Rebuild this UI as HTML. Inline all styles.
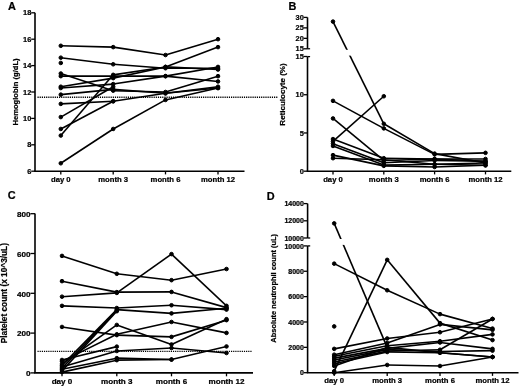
<!DOCTYPE html>
<html><head><meta charset="utf-8"><style>
html,body{margin:0;padding:0;background:#fff;}
svg{display:block;filter:grayscale(1);}
text{font-family:"Liberation Sans", sans-serif;fill:#000;}
</style></head><body>
<svg width="520" height="387" viewBox="0 0 520 387">
<rect width="520" height="387" fill="#fff"/>
<g stroke="#000" fill="#000" stroke-linecap="butt">
<text stroke="#000" stroke-width="0.22" x="11.90" y="9.90" font-size="10.9" text-anchor="middle" font-weight="bold">A</text>
<line x1="35.00" y1="12.80" x2="35.00" y2="171.20" stroke-width="1.6" />
<line x1="31.20" y1="12.80" x2="35.00" y2="12.80" stroke-width="1.3" />
<text stroke="#000" stroke-width="0.22" x="31.30" y="15.40" font-size="7.4" text-anchor="end" font-weight="bold">18</text>
<line x1="31.20" y1="39.20" x2="35.00" y2="39.20" stroke-width="1.3" />
<text stroke="#000" stroke-width="0.22" x="31.30" y="41.80" font-size="7.4" text-anchor="end" font-weight="bold">16</text>
<line x1="31.20" y1="65.60" x2="35.00" y2="65.60" stroke-width="1.3" />
<text stroke="#000" stroke-width="0.22" x="31.30" y="68.20" font-size="7.4" text-anchor="end" font-weight="bold">14</text>
<line x1="31.20" y1="92.00" x2="35.00" y2="92.00" stroke-width="1.3" />
<text stroke="#000" stroke-width="0.22" x="31.30" y="94.60" font-size="7.4" text-anchor="end" font-weight="bold">12</text>
<line x1="31.20" y1="118.40" x2="35.00" y2="118.40" stroke-width="1.3" />
<text stroke="#000" stroke-width="0.22" x="31.30" y="121.00" font-size="7.4" text-anchor="end" font-weight="bold">10</text>
<line x1="31.20" y1="144.80" x2="35.00" y2="144.80" stroke-width="1.3" />
<text stroke="#000" stroke-width="0.22" x="31.30" y="147.40" font-size="7.4" text-anchor="end" font-weight="bold">8</text>
<line x1="31.20" y1="171.20" x2="35.00" y2="171.20" stroke-width="1.3" />
<text stroke="#000" stroke-width="0.22" x="31.30" y="173.80" font-size="7.4" text-anchor="end" font-weight="bold">6</text>
<line x1="34.20" y1="171.20" x2="244.50" y2="171.20" stroke-width="1.6" />
<line x1="60.80" y1="171.20" x2="60.80" y2="174.40" stroke-width="1.3" />
<text stroke="#000" stroke-width="0.22" x="60.80" y="181.80" font-size="7.7" text-anchor="middle" font-weight="bold">day 0</text>
<line x1="113.20" y1="171.20" x2="113.20" y2="174.40" stroke-width="1.3" />
<text stroke="#000" stroke-width="0.22" x="113.20" y="181.80" font-size="7.7" text-anchor="middle" font-weight="bold">month 3</text>
<line x1="165.50" y1="171.20" x2="165.50" y2="174.40" stroke-width="1.3" />
<text stroke="#000" stroke-width="0.22" x="165.50" y="181.80" font-size="7.7" text-anchor="middle" font-weight="bold">month 6</text>
<line x1="218.00" y1="171.20" x2="218.00" y2="174.40" stroke-width="1.3" />
<text stroke="#000" stroke-width="0.22" x="218.00" y="181.80" font-size="7.7" text-anchor="middle" font-weight="bold">month 12</text>
<text stroke="#000" stroke-width="0.22" x="17.90" y="92.00" font-size="7.62" text-anchor="middle" font-weight="bold" transform="rotate(-90 17.90 92.00)">Hemoglobin (g/dL)</text>
<line x1="37.5" y1="97.28" x2="278" y2="97.28" stroke-width="1.4" stroke-dasharray="1.2 0.95"/>
<line x1="60.80" y1="45.80" x2="113.20" y2="47.12" stroke-width="1.6" />
<line x1="113.20" y1="47.12" x2="165.50" y2="55.04" stroke-width="1.6" />
<line x1="165.50" y1="55.04" x2="218.00" y2="39.20" stroke-width="1.6" />
<circle cx="60.80" cy="45.80" r="1.8"/>
<circle cx="113.20" cy="47.12" r="1.8"/>
<circle cx="165.50" cy="55.04" r="1.8"/>
<circle cx="218.00" cy="39.20" r="1.8"/>
<line x1="60.80" y1="57.68" x2="113.20" y2="64.28" stroke-width="1.6" />
<line x1="113.20" y1="64.28" x2="165.50" y2="68.24" stroke-width="1.6" />
<line x1="165.50" y1="68.24" x2="218.00" y2="68.24" stroke-width="1.6" />
<circle cx="60.80" cy="57.68" r="1.8"/>
<circle cx="113.20" cy="64.28" r="1.8"/>
<circle cx="165.50" cy="68.24" r="1.8"/>
<circle cx="218.00" cy="68.24" r="1.8"/>
<circle cx="60.80" cy="62.96" r="1.8"/>
<line x1="60.80" y1="73.52" x2="113.20" y2="90.68" stroke-width="1.6" />
<line x1="113.20" y1="90.68" x2="165.50" y2="92.00" stroke-width="1.6" />
<line x1="165.50" y1="92.00" x2="218.00" y2="76.16" stroke-width="1.6" />
<circle cx="60.80" cy="73.52" r="1.8"/>
<circle cx="113.20" cy="90.68" r="1.8"/>
<circle cx="165.50" cy="92.00" r="1.8"/>
<circle cx="218.00" cy="76.16" r="1.8"/>
<line x1="60.80" y1="76.16" x2="113.20" y2="76.16" stroke-width="1.6" />
<line x1="113.20" y1="76.16" x2="165.50" y2="76.16" stroke-width="1.6" />
<line x1="165.50" y1="76.16" x2="218.00" y2="81.44" stroke-width="1.6" />
<circle cx="60.80" cy="76.16" r="1.8"/>
<circle cx="113.20" cy="76.16" r="1.8"/>
<circle cx="165.50" cy="76.16" r="1.8"/>
<circle cx="218.00" cy="81.44" r="1.8"/>
<line x1="60.80" y1="86.72" x2="113.20" y2="78.14" stroke-width="1.6" />
<line x1="113.20" y1="78.14" x2="165.50" y2="66.92" stroke-width="1.6" />
<line x1="165.50" y1="66.92" x2="218.00" y2="69.56" stroke-width="1.6" />
<circle cx="60.80" cy="86.72" r="1.8"/>
<circle cx="113.20" cy="78.14" r="1.8"/>
<circle cx="165.50" cy="66.92" r="1.8"/>
<circle cx="218.00" cy="69.56" r="1.8"/>
<line x1="60.80" y1="88.04" x2="113.20" y2="84.08" stroke-width="1.6" />
<line x1="113.20" y1="84.08" x2="165.50" y2="76.16" stroke-width="1.6" />
<line x1="165.50" y1="76.16" x2="218.00" y2="66.92" stroke-width="1.6" />
<circle cx="60.80" cy="88.04" r="1.8"/>
<circle cx="113.20" cy="84.08" r="1.8"/>
<circle cx="165.50" cy="76.16" r="1.8"/>
<circle cx="218.00" cy="66.92" r="1.8"/>
<line x1="60.80" y1="94.64" x2="113.20" y2="89.36" stroke-width="1.6" />
<line x1="113.20" y1="89.36" x2="165.50" y2="93.32" stroke-width="1.6" />
<line x1="165.50" y1="93.32" x2="218.00" y2="86.72" stroke-width="1.6" />
<circle cx="60.80" cy="94.64" r="1.8"/>
<circle cx="113.20" cy="89.36" r="1.8"/>
<circle cx="165.50" cy="93.32" r="1.8"/>
<circle cx="218.00" cy="86.72" r="1.8"/>
<line x1="60.80" y1="103.88" x2="113.20" y2="101.24" stroke-width="1.6" />
<line x1="113.20" y1="101.24" x2="165.50" y2="93.32" stroke-width="1.6" />
<line x1="165.50" y1="93.32" x2="218.00" y2="88.04" stroke-width="1.6" />
<circle cx="60.80" cy="103.88" r="1.8"/>
<circle cx="113.20" cy="101.24" r="1.8"/>
<circle cx="165.50" cy="93.32" r="1.8"/>
<circle cx="218.00" cy="88.04" r="1.8"/>
<line x1="60.80" y1="117.08" x2="113.20" y2="86.72" stroke-width="1.6" />
<circle cx="60.80" cy="117.08" r="1.8"/>
<circle cx="113.20" cy="86.72" r="1.8"/>
<line x1="60.80" y1="128.96" x2="113.20" y2="101.24" stroke-width="1.6" />
<circle cx="60.80" cy="128.96" r="1.8"/>
<circle cx="113.20" cy="101.24" r="1.8"/>
<line x1="60.80" y1="135.56" x2="113.20" y2="74.84" stroke-width="1.6" />
<line x1="113.20" y1="74.84" x2="165.50" y2="66.92" stroke-width="1.6" />
<line x1="165.50" y1="66.92" x2="218.00" y2="47.12" stroke-width="1.6" />
<circle cx="60.80" cy="135.56" r="1.8"/>
<circle cx="113.20" cy="74.84" r="1.8"/>
<circle cx="165.50" cy="66.92" r="1.8"/>
<circle cx="218.00" cy="47.12" r="1.8"/>
<line x1="60.80" y1="163.28" x2="113.20" y2="128.96" stroke-width="1.6" />
<line x1="113.20" y1="128.96" x2="165.50" y2="99.92" stroke-width="1.6" />
<line x1="165.50" y1="99.92" x2="218.00" y2="88.04" stroke-width="1.6" />
<circle cx="60.80" cy="163.28" r="1.8"/>
<circle cx="113.20" cy="128.96" r="1.8"/>
<circle cx="165.50" cy="99.92" r="1.8"/>
<circle cx="218.00" cy="88.04" r="1.8"/>
<text stroke="#000" stroke-width="0.22" x="292.40" y="9.80" font-size="10.9" text-anchor="middle" font-weight="bold">B</text>
<line x1="307.50" y1="17.40" x2="307.50" y2="48.80" stroke-width="1.6" />
<line x1="303.70" y1="17.40" x2="307.50" y2="17.40" stroke-width="1.3" />
<text stroke="#000" stroke-width="0.22" x="303.80" y="20.00" font-size="7.4" text-anchor="end" font-weight="bold">30</text>
<line x1="303.70" y1="27.87" x2="307.50" y2="27.87" stroke-width="1.3" />
<text stroke="#000" stroke-width="0.22" x="303.80" y="30.47" font-size="7.4" text-anchor="end" font-weight="bold">25</text>
<line x1="303.70" y1="38.33" x2="307.50" y2="38.33" stroke-width="1.3" />
<text stroke="#000" stroke-width="0.22" x="303.80" y="40.93" font-size="7.4" text-anchor="end" font-weight="bold">20</text>
<line x1="303.70" y1="48.80" x2="307.50" y2="48.80" stroke-width="1.3" />
<text stroke="#000" stroke-width="0.22" x="303.80" y="51.40" font-size="7.4" text-anchor="end" font-weight="bold">15</text>
<line x1="307.50" y1="48.80" x2="310.10" y2="48.80" stroke-width="1.3" />
<line x1="307.50" y1="56.60" x2="307.50" y2="171.20" stroke-width="1.6" />
<line x1="307.50" y1="56.60" x2="310.10" y2="56.60" stroke-width="1.3" />
<line x1="303.70" y1="56.49" x2="307.50" y2="56.49" stroke-width="1.3" />
<text stroke="#000" stroke-width="0.22" x="303.80" y="59.09" font-size="7.4" text-anchor="end" font-weight="bold">15</text>
<line x1="303.70" y1="94.73" x2="307.50" y2="94.73" stroke-width="1.3" />
<text stroke="#000" stroke-width="0.22" x="303.80" y="97.33" font-size="7.4" text-anchor="end" font-weight="bold">10</text>
<line x1="303.70" y1="132.96" x2="307.50" y2="132.96" stroke-width="1.3" />
<text stroke="#000" stroke-width="0.22" x="303.80" y="135.56" font-size="7.4" text-anchor="end" font-weight="bold">5</text>
<line x1="303.70" y1="171.20" x2="307.50" y2="171.20" stroke-width="1.3" />
<text stroke="#000" stroke-width="0.22" x="303.80" y="173.80" font-size="7.4" text-anchor="end" font-weight="bold">0</text>
<line x1="306.70" y1="171.20" x2="511.30" y2="171.20" stroke-width="1.6" />
<line x1="333.00" y1="171.20" x2="333.00" y2="174.40" stroke-width="1.3" />
<text stroke="#000" stroke-width="0.22" x="333.00" y="181.80" font-size="7.7" text-anchor="middle" font-weight="bold">day 0</text>
<line x1="383.80" y1="171.20" x2="383.80" y2="174.40" stroke-width="1.3" />
<text stroke="#000" stroke-width="0.22" x="383.80" y="181.80" font-size="7.7" text-anchor="middle" font-weight="bold">month 3</text>
<line x1="434.60" y1="171.20" x2="434.60" y2="174.40" stroke-width="1.3" />
<text stroke="#000" stroke-width="0.22" x="434.60" y="181.80" font-size="7.7" text-anchor="middle" font-weight="bold">month 6</text>
<line x1="485.50" y1="171.20" x2="485.50" y2="174.40" stroke-width="1.3" />
<text stroke="#000" stroke-width="0.22" x="485.50" y="181.80" font-size="7.7" text-anchor="middle" font-weight="bold">month 12</text>
<text stroke="#000" stroke-width="0.22" x="285.00" y="94.50" font-size="8.0" text-anchor="middle" font-weight="bold" transform="rotate(-90 285.00 94.50)">Reticulocyte (%)</text>
<line x1="333.00" y1="21.59" x2="383.80" y2="123.79" stroke-width="1.6" />
<line x1="383.80" y1="123.79" x2="434.60" y2="153.61" stroke-width="1.6" />
<line x1="434.60" y1="153.61" x2="485.50" y2="163.02" stroke-width="1.6" />
<circle cx="333.00" cy="21.59" r="1.8"/>
<circle cx="383.80" cy="123.79" r="1.8"/>
<circle cx="434.60" cy="153.61" r="1.8"/>
<circle cx="485.50" cy="163.02" r="1.8"/>
<line x1="333.00" y1="100.85" x2="383.80" y2="128.38" stroke-width="1.6" />
<line x1="383.80" y1="128.38" x2="434.60" y2="154.38" stroke-width="1.6" />
<line x1="434.60" y1="154.38" x2="485.50" y2="152.85" stroke-width="1.6" />
<circle cx="333.00" cy="100.85" r="1.8"/>
<circle cx="383.80" cy="128.38" r="1.8"/>
<circle cx="434.60" cy="154.38" r="1.8"/>
<circle cx="485.50" cy="152.85" r="1.8"/>
<line x1="333.00" y1="118.44" x2="383.80" y2="160.49" stroke-width="1.6" />
<line x1="383.80" y1="160.49" x2="434.60" y2="158.96" stroke-width="1.6" />
<line x1="434.60" y1="158.96" x2="485.50" y2="158.96" stroke-width="1.6" />
<circle cx="333.00" cy="118.44" r="1.8"/>
<circle cx="383.80" cy="160.49" r="1.8"/>
<circle cx="434.60" cy="158.96" r="1.8"/>
<circle cx="485.50" cy="158.96" r="1.8"/>
<line x1="333.00" y1="139.08" x2="383.80" y2="158.20" stroke-width="1.6" />
<line x1="383.80" y1="158.20" x2="434.60" y2="158.96" stroke-width="1.6" />
<line x1="434.60" y1="158.96" x2="485.50" y2="161.26" stroke-width="1.6" />
<circle cx="333.00" cy="139.08" r="1.8"/>
<circle cx="383.80" cy="158.20" r="1.8"/>
<circle cx="434.60" cy="158.96" r="1.8"/>
<circle cx="485.50" cy="161.26" r="1.8"/>
<line x1="333.00" y1="141.38" x2="383.80" y2="96.26" stroke-width="1.6" />
<circle cx="333.00" cy="141.38" r="1.8"/>
<circle cx="383.80" cy="96.26" r="1.8"/>
<line x1="333.00" y1="143.67" x2="383.80" y2="162.79" stroke-width="1.6" />
<line x1="383.80" y1="162.79" x2="434.60" y2="160.49" stroke-width="1.6" />
<line x1="434.60" y1="160.49" x2="485.50" y2="161.26" stroke-width="1.6" />
<circle cx="333.00" cy="143.67" r="1.8"/>
<circle cx="383.80" cy="162.79" r="1.8"/>
<circle cx="434.60" cy="160.49" r="1.8"/>
<circle cx="485.50" cy="161.26" r="1.8"/>
<line x1="333.00" y1="145.96" x2="383.80" y2="165.08" stroke-width="1.6" />
<line x1="383.80" y1="165.08" x2="434.60" y2="164.32" stroke-width="1.6" />
<line x1="434.60" y1="164.32" x2="485.50" y2="165.31" stroke-width="1.6" />
<circle cx="333.00" cy="145.96" r="1.8"/>
<circle cx="383.80" cy="165.08" r="1.8"/>
<circle cx="434.60" cy="164.32" r="1.8"/>
<circle cx="485.50" cy="165.31" r="1.8"/>
<line x1="333.00" y1="155.14" x2="383.80" y2="165.85" stroke-width="1.6" />
<line x1="383.80" y1="165.85" x2="434.60" y2="166.99" stroke-width="1.6" />
<line x1="434.60" y1="166.99" x2="485.50" y2="165.31" stroke-width="1.6" />
<circle cx="333.00" cy="155.14" r="1.8"/>
<circle cx="383.80" cy="165.85" r="1.8"/>
<circle cx="434.60" cy="166.99" r="1.8"/>
<circle cx="485.50" cy="165.31" r="1.8"/>
<line x1="333.00" y1="158.20" x2="383.80" y2="159.73" stroke-width="1.6" />
<line x1="383.80" y1="159.73" x2="434.60" y2="164.32" stroke-width="1.6" />
<line x1="434.60" y1="164.32" x2="485.50" y2="163.02" stroke-width="1.6" />
<circle cx="333.00" cy="158.20" r="1.8"/>
<circle cx="383.80" cy="159.73" r="1.8"/>
<circle cx="434.60" cy="164.32" r="1.8"/>
<circle cx="485.50" cy="163.02" r="1.8"/>
<rect x="308.4" y="49.8" width="60" height="5.8" fill="#fff" stroke="none"/>
<text stroke="#000" stroke-width="0.22" x="11.60" y="199.40" font-size="10.9" text-anchor="middle" font-weight="bold">C</text>
<line x1="35.00" y1="213.60" x2="35.00" y2="372.90" stroke-width="1.6" />
<line x1="30.40" y1="213.70" x2="35.00" y2="213.70" stroke-width="1.3" />
<text stroke="#000" stroke-width="0.22" x="30.50" y="217.00" font-size="8.1" text-anchor="end" font-weight="bold">800</text>
<line x1="30.40" y1="253.50" x2="35.00" y2="253.50" stroke-width="1.3" />
<text stroke="#000" stroke-width="0.22" x="30.50" y="256.80" font-size="8.1" text-anchor="end" font-weight="bold">600</text>
<line x1="30.40" y1="293.30" x2="35.00" y2="293.30" stroke-width="1.3" />
<text stroke="#000" stroke-width="0.22" x="30.50" y="296.60" font-size="8.1" text-anchor="end" font-weight="bold">400</text>
<line x1="30.40" y1="333.10" x2="35.00" y2="333.10" stroke-width="1.3" />
<text stroke="#000" stroke-width="0.22" x="30.50" y="336.40" font-size="8.1" text-anchor="end" font-weight="bold">200</text>
<line x1="30.40" y1="372.90" x2="35.00" y2="372.90" stroke-width="1.3" />
<text stroke="#000" stroke-width="0.22" x="30.50" y="376.20" font-size="8.1" text-anchor="end" font-weight="bold">0</text>
<line x1="34.20" y1="372.90" x2="253.00" y2="372.90" stroke-width="1.6" />
<line x1="62.00" y1="372.90" x2="62.00" y2="376.30" stroke-width="1.3" />
<text stroke="#000" stroke-width="0.22" x="62.00" y="384.10" font-size="8.1" text-anchor="middle" font-weight="bold">day 0</text>
<line x1="116.80" y1="372.90" x2="116.80" y2="376.30" stroke-width="1.3" />
<text stroke="#000" stroke-width="0.22" x="116.80" y="384.10" font-size="8.1" text-anchor="middle" font-weight="bold">month 3</text>
<line x1="171.50" y1="372.90" x2="171.50" y2="376.30" stroke-width="1.3" />
<text stroke="#000" stroke-width="0.22" x="171.50" y="384.10" font-size="8.1" text-anchor="middle" font-weight="bold">month 6</text>
<line x1="226.50" y1="372.90" x2="226.50" y2="376.30" stroke-width="1.3" />
<text stroke="#000" stroke-width="0.22" x="226.50" y="384.10" font-size="8.1" text-anchor="middle" font-weight="bold">month 12</text>
<text stroke="#000" stroke-width="0.22" x="6.80" y="293.20" font-size="8.3" text-anchor="middle" font-weight="bold" transform="rotate(-90 6.80 293.20)">Platelet count (x 10^3/uL)</text>
<line x1="37.5" y1="351.41" x2="252" y2="351.41" stroke-width="1.4" stroke-dasharray="1.2 0.95"/>
<line x1="62.00" y1="255.89" x2="116.80" y2="273.80" stroke-width="1.6" />
<line x1="116.80" y1="273.80" x2="171.50" y2="280.17" stroke-width="1.6" />
<line x1="171.50" y1="280.17" x2="226.50" y2="269.02" stroke-width="1.6" />
<circle cx="62.00" cy="255.89" r="1.8"/>
<circle cx="116.80" cy="273.80" r="1.8"/>
<circle cx="171.50" cy="280.17" r="1.8"/>
<circle cx="226.50" cy="269.02" r="1.8"/>
<line x1="62.00" y1="281.16" x2="116.80" y2="292.11" stroke-width="1.6" />
<line x1="116.80" y1="292.11" x2="171.50" y2="291.91" stroke-width="1.6" />
<line x1="171.50" y1="291.91" x2="226.50" y2="307.63" stroke-width="1.6" />
<circle cx="62.00" cy="281.16" r="1.8"/>
<circle cx="116.80" cy="292.11" r="1.8"/>
<circle cx="171.50" cy="291.91" r="1.8"/>
<circle cx="226.50" cy="307.63" r="1.8"/>
<line x1="62.00" y1="296.68" x2="116.80" y2="292.90" stroke-width="1.6" />
<line x1="116.80" y1="292.90" x2="171.50" y2="254.10" stroke-width="1.6" />
<line x1="171.50" y1="254.10" x2="226.50" y2="305.84" stroke-width="1.6" />
<circle cx="62.00" cy="296.68" r="1.8"/>
<circle cx="116.80" cy="292.90" r="1.8"/>
<circle cx="171.50" cy="254.10" r="1.8"/>
<circle cx="226.50" cy="305.84" r="1.8"/>
<line x1="62.00" y1="305.84" x2="116.80" y2="308.03" stroke-width="1.6" />
<line x1="116.80" y1="308.03" x2="171.50" y2="305.24" stroke-width="1.6" />
<line x1="171.50" y1="305.24" x2="226.50" y2="309.62" stroke-width="1.6" />
<circle cx="62.00" cy="305.84" r="1.8"/>
<circle cx="116.80" cy="308.03" r="1.8"/>
<circle cx="171.50" cy="305.24" r="1.8"/>
<circle cx="226.50" cy="309.62" r="1.8"/>
<line x1="62.00" y1="326.93" x2="116.80" y2="335.09" stroke-width="1.6" />
<line x1="116.80" y1="335.09" x2="171.50" y2="336.88" stroke-width="1.6" />
<line x1="171.50" y1="336.88" x2="226.50" y2="320.16" stroke-width="1.6" />
<circle cx="62.00" cy="326.93" r="1.8"/>
<circle cx="116.80" cy="335.09" r="1.8"/>
<circle cx="171.50" cy="336.88" r="1.8"/>
<circle cx="226.50" cy="320.16" r="1.8"/>
<line x1="62.00" y1="365.34" x2="116.80" y2="309.62" stroke-width="1.6" />
<line x1="116.80" y1="309.62" x2="171.50" y2="313.40" stroke-width="1.6" />
<line x1="171.50" y1="313.40" x2="226.50" y2="308.22" stroke-width="1.6" />
<circle cx="62.00" cy="365.34" r="1.8"/>
<circle cx="116.80" cy="309.62" r="1.8"/>
<circle cx="171.50" cy="313.40" r="1.8"/>
<circle cx="226.50" cy="308.22" r="1.8"/>
<line x1="62.00" y1="368.12" x2="116.80" y2="310.41" stroke-width="1.6" />
<circle cx="62.00" cy="368.12" r="1.8"/>
<circle cx="116.80" cy="310.41" r="1.8"/>
<line x1="62.00" y1="370.91" x2="116.80" y2="311.21" stroke-width="1.6" />
<circle cx="62.00" cy="370.91" r="1.8"/>
<circle cx="116.80" cy="311.21" r="1.8"/>
<line x1="62.00" y1="363.94" x2="116.80" y2="324.94" stroke-width="1.6" />
<line x1="116.80" y1="324.94" x2="171.50" y2="344.44" stroke-width="1.6" />
<line x1="171.50" y1="344.44" x2="226.50" y2="319.17" stroke-width="1.6" />
<circle cx="62.00" cy="363.94" r="1.8"/>
<circle cx="116.80" cy="324.94" r="1.8"/>
<circle cx="171.50" cy="344.44" r="1.8"/>
<circle cx="226.50" cy="319.17" r="1.8"/>
<line x1="62.00" y1="361.36" x2="116.80" y2="334.29" stroke-width="1.6" />
<line x1="116.80" y1="334.29" x2="171.50" y2="321.96" stroke-width="1.6" />
<line x1="171.50" y1="321.96" x2="226.50" y2="332.90" stroke-width="1.6" />
<circle cx="62.00" cy="361.36" r="1.8"/>
<circle cx="116.80" cy="334.29" r="1.8"/>
<circle cx="171.50" cy="321.96" r="1.8"/>
<circle cx="226.50" cy="332.90" r="1.8"/>
<line x1="62.00" y1="359.96" x2="116.80" y2="346.63" stroke-width="1.6" />
<circle cx="62.00" cy="359.96" r="1.8"/>
<circle cx="116.80" cy="346.63" r="1.8"/>
<line x1="62.00" y1="366.93" x2="116.80" y2="351.01" stroke-width="1.6" />
<line x1="116.80" y1="351.01" x2="171.50" y2="348.02" stroke-width="1.6" />
<line x1="171.50" y1="348.02" x2="226.50" y2="353.00" stroke-width="1.6" />
<circle cx="62.00" cy="366.93" r="1.8"/>
<circle cx="116.80" cy="351.01" r="1.8"/>
<circle cx="171.50" cy="348.02" r="1.8"/>
<circle cx="226.50" cy="353.00" r="1.8"/>
<line x1="62.00" y1="369.32" x2="116.80" y2="358.17" stroke-width="1.6" />
<line x1="116.80" y1="358.17" x2="171.50" y2="359.57" stroke-width="1.6" />
<line x1="171.50" y1="359.57" x2="226.50" y2="346.43" stroke-width="1.6" />
<circle cx="62.00" cy="369.32" r="1.8"/>
<circle cx="116.80" cy="358.17" r="1.8"/>
<circle cx="171.50" cy="359.57" r="1.8"/>
<circle cx="226.50" cy="346.43" r="1.8"/>
<line x1="62.00" y1="372.10" x2="116.80" y2="360.16" stroke-width="1.6" />
<line x1="116.80" y1="360.16" x2="171.50" y2="359.57" stroke-width="1.6" />
<circle cx="62.00" cy="372.10" r="1.8"/>
<circle cx="116.80" cy="360.16" r="1.8"/>
<circle cx="171.50" cy="359.57" r="1.8"/>
<text stroke="#000" stroke-width="0.22" x="270.70" y="199.80" font-size="10.9" text-anchor="middle" font-weight="bold">D</text>
<line x1="307.60" y1="203.60" x2="307.60" y2="238.00" stroke-width="1.6" />
<line x1="303.80" y1="203.60" x2="307.60" y2="203.60" stroke-width="1.3" />
<text stroke="#000" stroke-width="0.22" x="303.90" y="206.20" font-size="7.0" text-anchor="end" font-weight="bold">14000</text>
<line x1="303.80" y1="220.80" x2="307.60" y2="220.80" stroke-width="1.3" />
<text stroke="#000" stroke-width="0.22" x="303.90" y="223.40" font-size="7.0" text-anchor="end" font-weight="bold">12000</text>
<line x1="303.80" y1="238.00" x2="307.60" y2="238.00" stroke-width="1.3" />
<text stroke="#000" stroke-width="0.22" x="303.90" y="240.60" font-size="7.0" text-anchor="end" font-weight="bold">10000</text>
<line x1="307.60" y1="238.00" x2="310.20" y2="238.00" stroke-width="1.3" />
<line x1="307.60" y1="245.90" x2="307.60" y2="372.70" stroke-width="1.6" />
<line x1="307.60" y1="245.90" x2="310.20" y2="245.90" stroke-width="1.3" />
<line x1="303.80" y1="245.90" x2="307.60" y2="245.90" stroke-width="1.3" />
<text stroke="#000" stroke-width="0.22" x="303.90" y="248.50" font-size="7.0" text-anchor="end" font-weight="bold">10000</text>
<line x1="303.80" y1="271.26" x2="307.60" y2="271.26" stroke-width="1.3" />
<text stroke="#000" stroke-width="0.22" x="303.90" y="273.86" font-size="7.0" text-anchor="end" font-weight="bold">8000</text>
<line x1="303.80" y1="296.62" x2="307.60" y2="296.62" stroke-width="1.3" />
<text stroke="#000" stroke-width="0.22" x="303.90" y="299.22" font-size="7.0" text-anchor="end" font-weight="bold">6000</text>
<line x1="303.80" y1="321.98" x2="307.60" y2="321.98" stroke-width="1.3" />
<text stroke="#000" stroke-width="0.22" x="303.90" y="324.58" font-size="7.0" text-anchor="end" font-weight="bold">4000</text>
<line x1="303.80" y1="347.34" x2="307.60" y2="347.34" stroke-width="1.3" />
<text stroke="#000" stroke-width="0.22" x="303.90" y="349.94" font-size="7.0" text-anchor="end" font-weight="bold">2000</text>
<line x1="303.80" y1="372.70" x2="307.60" y2="372.70" stroke-width="1.3" />
<text stroke="#000" stroke-width="0.22" x="303.90" y="375.30" font-size="7.0" text-anchor="end" font-weight="bold">0</text>
<line x1="306.80" y1="372.70" x2="518.50" y2="372.70" stroke-width="1.6" />
<line x1="334.20" y1="372.70" x2="334.20" y2="375.90" stroke-width="1.3" />
<text stroke="#000" stroke-width="0.22" x="334.20" y="383.30" font-size="7.7" text-anchor="middle" font-weight="bold">day 0</text>
<line x1="387.20" y1="372.70" x2="387.20" y2="375.90" stroke-width="1.3" />
<text stroke="#000" stroke-width="0.22" x="387.20" y="383.30" font-size="7.7" text-anchor="middle" font-weight="bold">month 3</text>
<line x1="440.00" y1="372.70" x2="440.00" y2="375.90" stroke-width="1.3" />
<text stroke="#000" stroke-width="0.22" x="440.00" y="383.30" font-size="7.7" text-anchor="middle" font-weight="bold">month 6</text>
<line x1="492.50" y1="372.70" x2="492.50" y2="375.90" stroke-width="1.3" />
<text stroke="#000" stroke-width="0.22" x="492.50" y="383.30" font-size="7.7" text-anchor="middle" font-weight="bold">month 12</text>
<text stroke="#000" stroke-width="0.22" x="276.30" y="288.30" font-size="7.45" text-anchor="middle" font-weight="bold" transform="rotate(-90 276.30 288.30)">Absolute neutrophil count (uL)</text>
<line x1="334.20" y1="223.38" x2="387.20" y2="347.34" stroke-width="1.6" />
<line x1="387.20" y1="347.34" x2="440.00" y2="352.79" stroke-width="1.6" />
<line x1="440.00" y1="352.79" x2="492.50" y2="356.98" stroke-width="1.6" />
<circle cx="334.20" cy="223.38" r="1.8"/>
<circle cx="387.20" cy="347.34" r="1.8"/>
<circle cx="440.00" cy="352.79" r="1.8"/>
<circle cx="492.50" cy="356.98" r="1.8"/>
<line x1="334.20" y1="263.65" x2="387.20" y2="290.28" stroke-width="1.6" />
<line x1="387.20" y1="290.28" x2="440.00" y2="314.12" stroke-width="1.6" />
<line x1="440.00" y1="314.12" x2="492.50" y2="328.57" stroke-width="1.6" />
<circle cx="334.20" cy="263.65" r="1.8"/>
<circle cx="387.20" cy="290.28" r="1.8"/>
<circle cx="440.00" cy="314.12" r="1.8"/>
<circle cx="492.50" cy="328.57" r="1.8"/>
<circle cx="334.20" cy="326.42" r="1.8"/>
<line x1="334.20" y1="348.86" x2="387.20" y2="338.46" stroke-width="1.6" />
<line x1="387.20" y1="338.46" x2="440.00" y2="332.25" stroke-width="1.6" />
<line x1="440.00" y1="332.25" x2="492.50" y2="318.94" stroke-width="1.6" />
<circle cx="334.20" cy="348.86" r="1.8"/>
<circle cx="387.20" cy="338.46" r="1.8"/>
<circle cx="440.00" cy="332.25" r="1.8"/>
<circle cx="492.50" cy="318.94" r="1.8"/>
<line x1="334.20" y1="354.69" x2="387.20" y2="343.03" stroke-width="1.6" />
<line x1="387.20" y1="343.03" x2="440.00" y2="324.39" stroke-width="1.6" />
<line x1="440.00" y1="324.39" x2="492.50" y2="329.84" stroke-width="1.6" />
<circle cx="334.20" cy="354.69" r="1.8"/>
<circle cx="387.20" cy="343.03" r="1.8"/>
<circle cx="440.00" cy="324.39" r="1.8"/>
<circle cx="492.50" cy="329.84" r="1.8"/>
<line x1="334.20" y1="356.22" x2="387.20" y2="345.69" stroke-width="1.6" />
<line x1="387.20" y1="345.69" x2="440.00" y2="341.25" stroke-width="1.6" />
<line x1="440.00" y1="341.25" x2="492.50" y2="334.41" stroke-width="1.6" />
<circle cx="334.20" cy="356.22" r="1.8"/>
<circle cx="387.20" cy="345.69" r="1.8"/>
<circle cx="440.00" cy="341.25" r="1.8"/>
<circle cx="492.50" cy="334.41" r="1.8"/>
<line x1="334.20" y1="358.12" x2="387.20" y2="348.35" stroke-width="1.6" />
<line x1="387.20" y1="348.35" x2="440.00" y2="342.52" stroke-width="1.6" />
<line x1="440.00" y1="342.52" x2="492.50" y2="348.86" stroke-width="1.6" />
<circle cx="334.20" cy="358.12" r="1.8"/>
<circle cx="387.20" cy="348.35" r="1.8"/>
<circle cx="440.00" cy="342.52" r="1.8"/>
<circle cx="492.50" cy="348.86" r="1.8"/>
<line x1="334.20" y1="360.02" x2="387.20" y2="349.62" stroke-width="1.6" />
<line x1="387.20" y1="349.62" x2="440.00" y2="351.52" stroke-width="1.6" />
<line x1="440.00" y1="351.52" x2="492.50" y2="350.64" stroke-width="1.6" />
<circle cx="334.20" cy="360.02" r="1.8"/>
<circle cx="387.20" cy="349.62" r="1.8"/>
<circle cx="440.00" cy="351.52" r="1.8"/>
<circle cx="492.50" cy="350.64" r="1.8"/>
<line x1="334.20" y1="361.92" x2="387.20" y2="351.14" stroke-width="1.6" />
<line x1="387.20" y1="351.14" x2="440.00" y2="349.75" stroke-width="1.6" />
<line x1="440.00" y1="349.75" x2="492.50" y2="318.94" stroke-width="1.6" />
<circle cx="334.20" cy="361.92" r="1.8"/>
<circle cx="387.20" cy="351.14" r="1.8"/>
<circle cx="440.00" cy="349.75" r="1.8"/>
<circle cx="492.50" cy="318.94" r="1.8"/>
<line x1="334.20" y1="363.82" x2="387.20" y2="352.03" stroke-width="1.6" />
<line x1="387.20" y1="352.03" x2="440.00" y2="352.79" stroke-width="1.6" />
<line x1="440.00" y1="352.79" x2="492.50" y2="356.98" stroke-width="1.6" />
<circle cx="334.20" cy="363.82" r="1.8"/>
<circle cx="387.20" cy="352.03" r="1.8"/>
<circle cx="440.00" cy="352.79" r="1.8"/>
<circle cx="492.50" cy="356.98" r="1.8"/>
<line x1="334.20" y1="365.98" x2="387.20" y2="347.47" stroke-width="1.6" />
<circle cx="334.20" cy="365.98" r="1.8"/>
<circle cx="387.20" cy="347.47" r="1.8"/>
<line x1="334.20" y1="371.18" x2="387.20" y2="259.85" stroke-width="1.6" />
<line x1="387.20" y1="259.85" x2="440.00" y2="323.12" stroke-width="1.6" />
<line x1="440.00" y1="323.12" x2="492.50" y2="340.11" stroke-width="1.6" />
<circle cx="334.20" cy="371.18" r="1.8"/>
<circle cx="387.20" cy="259.85" r="1.8"/>
<circle cx="440.00" cy="323.12" r="1.8"/>
<circle cx="492.50" cy="340.11" r="1.8"/>
<line x1="334.20" y1="372.70" x2="387.20" y2="364.97" stroke-width="1.6" />
<line x1="387.20" y1="364.97" x2="440.00" y2="365.98" stroke-width="1.6" />
<line x1="440.00" y1="365.98" x2="492.50" y2="356.98" stroke-width="1.6" />
<circle cx="334.20" cy="372.70" r="1.8"/>
<circle cx="387.20" cy="364.97" r="1.8"/>
<circle cx="440.00" cy="365.98" r="1.8"/>
<circle cx="492.50" cy="356.98" r="1.8"/>
<rect x="308.5" y="239" width="60" height="5.9" fill="#fff" stroke="none"/>
</g>
</svg>
</body></html>
